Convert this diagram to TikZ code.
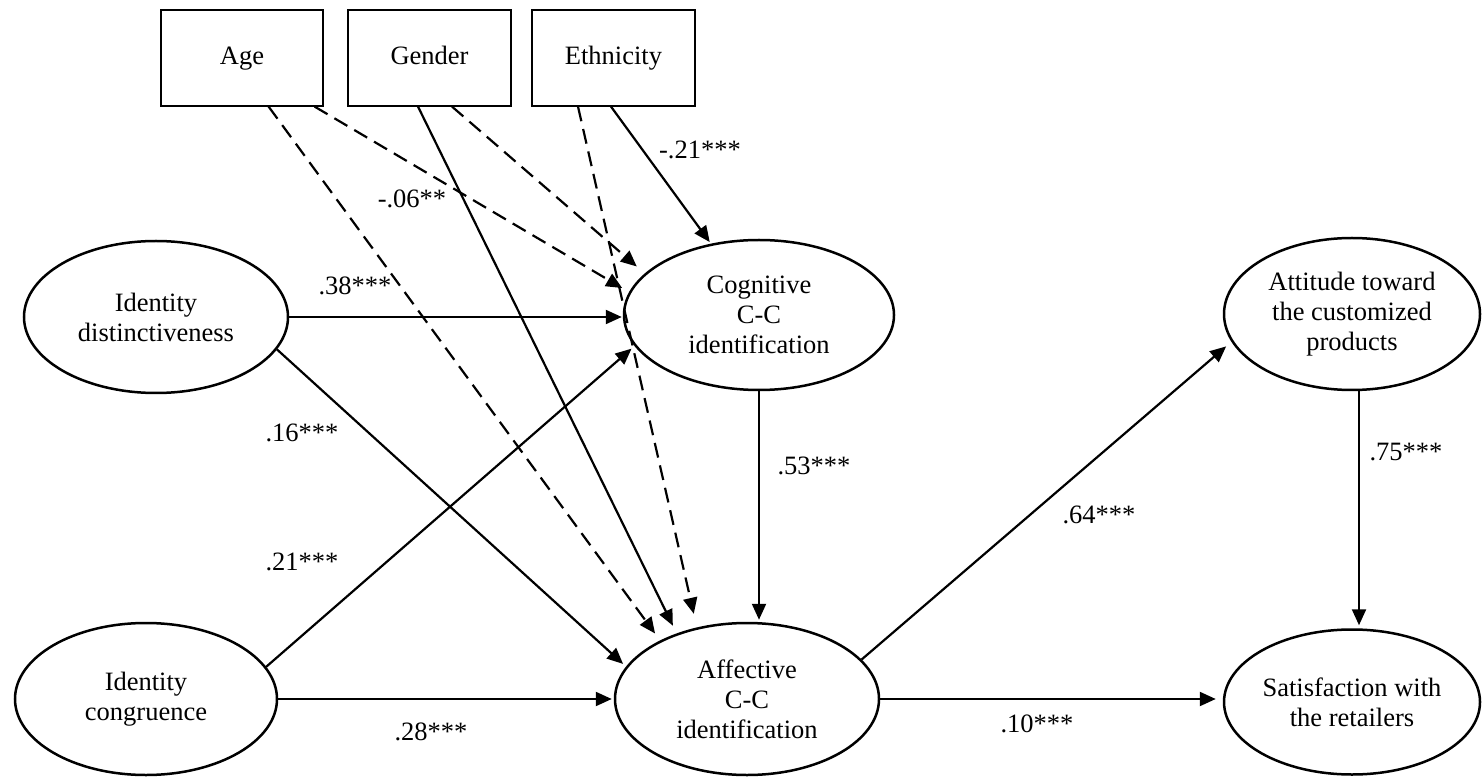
\documentclass[tikz,border=0pt]{standalone}
\usepackage{fontspec}
\setmainfont{Liberation Serif}
\usetikzlibrary{shapes.geometric,arrows.meta}
\begin{document}
\begin{tikzpicture}[x=0.5pt,y=-0.5pt,
  font=\fontsize{13.25}{15}\selectfont,
  latent/.style={ellipse,draw,line width=1.25pt,inner sep=0pt,align=center},
  obs/.style={rectangle,draw,line width=0.6pt,inner sep=0pt,minimum height=48pt,text height=9pt,text depth=2.5pt},
  arr/.style={line width=1.1pt,-{Triangle[length=8pt,width=7pt]},shorten >=3pt},
  darr/.style={arr,dash pattern=on 7.5pt off 4pt},
  coef/.style={inner sep=0pt,text depth=0pt}]
\useasboundingbox (0,0) rectangle (1482,780);
% observed covariates
\node[obs,minimum width=81pt] (age) at (242,58) {Age};
\node[obs,minimum width=81.5pt] (gen) at (429.5,58) {Gender};
\node[obs,minimum width=81.5pt] (eth) at (613.5,58) {Ethnicity};
% latent constructs
\node[latent,minimum width=132pt,minimum height=76pt] (dist) at (156,317) {Identity\\distinctiveness};
\node[latent,minimum width=131pt,minimum height=76pt] (cong) at (146,699) {Identity\\congruence};
\node[latent,minimum width=135pt,minimum height=75pt] (cog) at (759,315) {Cognitive\\C-C\\identification};
\node[latent,minimum width=132pt,minimum height=76pt] (aff) at (747,699) {Affective\\C-C\\identification};
\node[latent,minimum width=128pt,minimum height=76pt] (att) at (1352,314) {Attitude toward\\the customized\\products};
\node[latent,minimum width=128pt,minimum height=72.5pt] (sat) at (1352,702) {Satisfaction with\\the retailers};
% control paths
\draw[darr,shorten >=4pt] ([xshift=-4.5pt]age.south east) -- (cog.170.8);
\draw[darr,shorten >=4.3pt] ([xshift=-27.5pt]age.south east) -- (aff.146.8);
\draw[darr,shorten >=5.3pt] ([xshift=11.25pt]gen.south) -- (cog.160.7);
\draw[arr,shorten >=4.3pt] ([xshift=-5.75pt]gen.south) -- (aff.137.6);
\draw[arr,shorten >=1pt] ([xshift=-1.25pt]eth.south) -- (cog.124.8);
\draw[darr,shorten >=7pt] ([xshift=-17.75pt]eth.south) -- (aff.125);
% structural paths
\draw[arr,shorten >=0.5pt] (dist.east) -- (dist.east -| cog.west);
\draw[arr,shorten >=2pt] (dist.-15.5) -- (aff.165);
\draw[arr,shorten >=2pt] (cong.15.6) -- (cog.-166.6);
\draw[arr,shorten >=1pt] (cong.east) -- (aff.west);
\draw[arr,shorten >=1pt] (cog.south) -- (cog.south |- aff.north);
\draw[arr,shorten >=3.5pt] (aff.19.6) -- (att.193.5);
\draw[arr,shorten >=3.5pt] (aff.east) -- (aff.east -| sat.west);
\draw[arr,shorten >=1.5pt] ([xshift=3.5pt]att.south) -- ([xshift=3.5pt]att.south |- sat.north);
% coefficients
\node[coef] (c1) at (412,199) {-.06**};
\node[coef] (c2) at (700,150) {-.21***};
\node[coef] (c3) at (355,286) {.38***};
\node[coef] (c4) at (302,433) {.16***};
\node[coef] (c5) at (302,562) {.21***};
\node[coef] (c6) at (431,732) {.28***};
\node[coef] (c7) at (814,466) {.53***};
\node[coef] (c8) at (1099,515) {.64***};
\node[coef] (c9) at (1037,724) {.10***};
\node[coef] (c10) at (1406,452) {.75***};
\end{tikzpicture}
\end{document}
